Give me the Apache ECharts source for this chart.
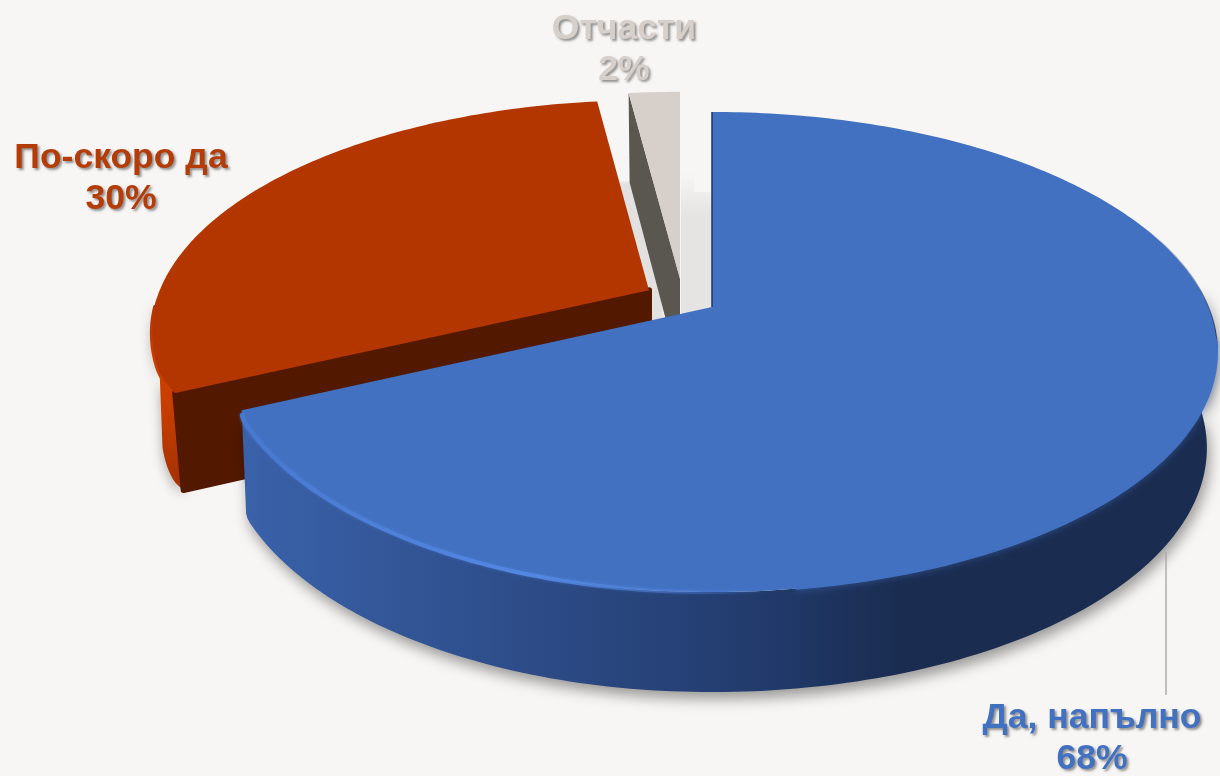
<!DOCTYPE html>
<html><head><meta charset="utf-8">
<style>html,body{margin:0;padding:0;background:#f7f6f4}#c{width:1220px;height:776px}</style>
<script src="https://cdn.jsdelivr.net/npm/echarts@6/dist/echarts.min.js"></script>
</head><body><div id="c"></div>
<script>
// Data
const categories = ['Да, напълно', 'По-скоро да', 'Отчасти'];
const values = [68, 30, 2];

// Style & layout (projection of the tilted disc, per-slice explode, rim easing, label placement)
const topColors = ['#4271c1', '#b33600', '#d6cfca'];
const textColors = ['#4271c1', '#b33c08', '#d6cfca'];
const explodeX = [0, -63, -32];
const explodeY = [0, -0.073, -0.125];
const rimEase = [0.025, 0.005, 0];
const easeSpan = [60, 6, 1];
const CX = 712, CY = 307, RX = 496, RY = 231.6, K = 0.1875, LOW_X = 0.98;
const labelX = [1092, 121, 624];
const labelY = [698, 138, 9];

const total = values.reduce((a, b) => a + b, 0);
function startAngle(i) {
  let t = 0; for (let k = 0; k < i; k++) t += values[k];
  return t / total * 360;
}
function project(i, deg, r, low) {
  const corner = startAngle(1), d = Math.abs(deg - corner);
  if (r > 0 && d < easeSpan[i]) {
    const t = 1 - d / easeSpan[i];
    r -= rimEase[i] * t * t * (3 - 2 * t) * (low ? 0.6 : 1);
  }
  if (r > 0 && d < 3 && i < 2) r -= 0.008 * Math.pow(1 - d / 3, 2);
  const a = deg * Math.PI / 180;
  const X = r * Math.sin(a), Y = -r * Math.cos(a) + explodeY[i];
  const s = 1 / (1 - K * Y);
  const sx = RX * X * s * (low ? LOW_X : 1) + explodeX[i] + CX;
  const sy = CY + RY * Y * s + (low ? 95 + 5 * Y : 0);
  return [sx, sy];
}
function arc(i, a0, a1, low) {
  const pts = [], n = Math.max(2, Math.ceil(Math.abs(a1 - a0)));
  for (let k = 0; k <= n; k++) pts.push(project(i, a0 + (a1 - a0) * k / n, 1, low));
  return pts;
}
const grad = (x0, y0, x1, y1, stops) => new echarts.graphic.LinearGradient(x0, y0, x1, y1,
  stops.map(s => ({offset: s[0], color: s[1]})), true);

function renderItem(params, api) {
  const i = params.dataIndex, v = api.value(0);
  const a0 = startAngle(i), a1 = a0 + v / total * 360;
  const apexT = project(i, 0, 0, false), apexB = project(i, 0, 0, true);
  const top = [apexT].concat(arc(i, a0, a1, false));
  const foot = [apexB].concat(arc(i, a0, a1, true));
  const ch = [];
  const z = [30, 20, 10][i];
  if (i === 0) {
    // soft shading in the gap left of the slice
    ch.push({type:'polygon', z2:1, shape:{points:[[712,192],[712,330],[681,330],[681,172],[694,172],[694,192]]},
      style:{fill: grad(0,172,0,215,[[0,'#f7f6f4'],[1,'#e5e4e2']])}});
    const side = arc(i, 85, a1, false).concat(arc(i, 85, a1, true).reverse());
    ch.push({type:'polygon', z2:z, shape:{points:side}, style:{
      fill: grad(240,0,1210,0,[[0,'#3a62aa'],[0.27,'#2e4e8b'],[0.55,'#213a6b'],[0.68,'#1a2c50'],[1,'#1a2c50']]),
      shadowBlur:14, shadowColor:'rgba(0,0,0,0.38)', shadowOffsetY:7, shadowOffsetX:3}});
    ch.push({type:'polyline', z2:z+1, shape:{points:arc(i, 62, 100, false)},
      style:{fill:null, lineWidth:2, stroke: grad(0,225,0,330,[[0,'rgba(39,67,111,0)'],[1,'#27436f']])}});
    ch.push({type:'polygon', z2:z+3, shape:{points:top}, style:{fill:topColors[i]}});
    ch.push({type:'polyline', z2:z+3, shape:{points:arc(i, 98, 172, false)},
      style:{fill:null, stroke:topColors[i], lineWidth:2, lineCap:'round', shadowBlur:6, shadowColor:topColors[i]}});
    ch.push({type:'polyline', z2:z+4, shape:{points:[apexT, project(i,a0,1,false)]},
      style:{stroke:'#1c3560', lineWidth:1.5, fill:null}});
    ch.push({type:'polyline', z2:z+4, shape:{points:arc(i, 165, a1-1, false)}, style:{fill:null, lineWidth:4,
      lineCap:'round', shadowBlur:3, shadowColor:'rgba(79,130,220,0.6)',
      stroke: grad(240,0,770,0,[[0,'#4879d0'],[0.55,'#5387e2'],[1,'rgba(79,130,220,0)']])}});
    // leader line
    ch.push({type:'line', z2:z+5, shape:{x1:1166,y1:552,x2:1166,y2:695}, style:{stroke:'#adadad', lineWidth:1.5}});
  } else if (i === 1) {
    const s0 = project(i,a0,1,false), s1 = project(i,a0,1,true);
    const sliver = arc(i, a0, 268, false).concat(arc(i, 255, a0, true));
    ch.push({type:'polygon', z2:z, shape:{points:sliver}, style:{
      fill: grad(0,340,0,495,[[0,'#cf4000'],[0.4,'#c93e00'],[1,'#a03000']]),
      shadowBlur:12, shadowColor:'rgba(0,0,0,0.3)', shadowOffsetY:5}});
    ch.push({type:'polygon', z2:z+1, shape:{points:[apexT, s0, s1, apexB]}, style:{
      fill:'#521800', stroke:'#521800', lineWidth:6, lineJoin:'round'}});
    ch.push({type:'polygon', z2:z+2, shape:{points:top}, style:{fill:topColors[i]}});
    ch.push({type:'polyline', z2:z+3, shape:{points:arc(i, a0+1, 266, false)}, style:{fill:null, lineWidth:2.5, lineCap:'round',
      stroke: grad(0,395,0,310,[[0,'#cc3f00'],[0.6,'#c83d00'],[1,topColors[i]]])}});
  } else {
    ch.push({type:'polygon', z2:z, shape:{points:foot}, style:{fill:'#e4e2df',
      shadowBlur:3, shadowColor:'#e2e1df', shadowOffsetX:-17}});
    const e0 = project(i,a0,1,false), e1 = project(i,a0,1,true);
    ch.push({type:'polygon', z2:z+1, shape:{points:[apexT, e0, e1, apexB]}, style:{fill:'#5a5751'}});
    ch.push({type:'polygon', z2:z+2, shape:{points:top}, style:{fill:topColors[i]}});
  }
  ch.push({type:'text', z2:50, style:{
    text: categories[i] + '\n' + v + '%', x: labelX[i], y: labelY[i],
    align:'center', verticalAlign:'top', fontFamily:'Liberation Sans', fontWeight:'bold',
    fontSize:35.5, lineHeight:40.5, fill:textColors[i],
    textShadowColor:'rgba(0,0,0,0.42)', textShadowBlur:2.5, textShadowOffsetX:2, textShadowOffsetY:2}});
  return {type:'group', children:ch};
}

const chart = echarts.init(document.getElementById('c'), null, {renderer:'canvas'});
chart.setOption({
  backgroundColor:'#f7f6f4',
  animation:false,
  series:[{type:'custom', coordinateSystem:'none', renderItem, silent:true,
    data: values.map((v, i) => ({name:categories[i], value:[v]}))}]
});
</script></body></html>
